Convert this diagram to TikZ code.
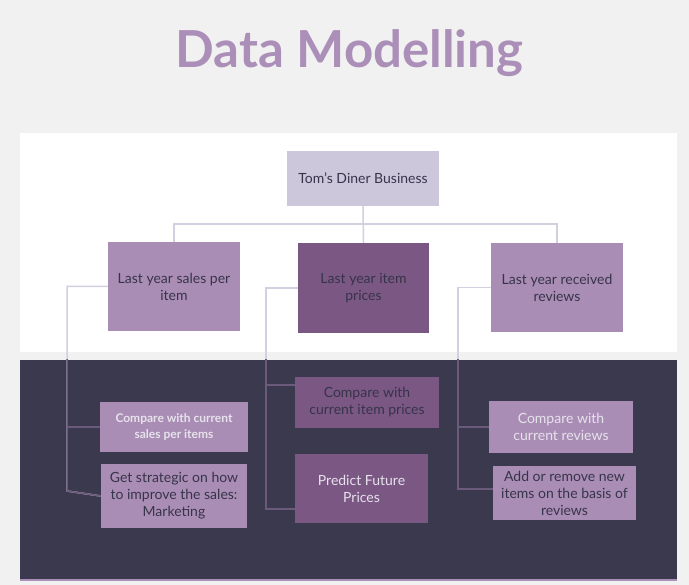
\documentclass[tikz,border=0pt]{standalone}
\usepackage{fontspec}
\setmainfont{Lato}
\usepackage{xcolor}
\usetikzlibrary{positioning}

\definecolor{pagegray}{HTML}{F1F1F1}
\definecolor{titlepurple}{HTML}{AB8FB8}
\definecolor{rootlav}{HTML}{CDC7DC}
\definecolor{lightpurple}{HTML}{AA8DB5}
\definecolor{darkpurple}{HTML}{7B5784}
\definecolor{nightpanel}{HTML}{3B394D}
\definecolor{inkdark}{HTML}{37344A}
\definecolor{inklight}{HTML}{E6E2EC}
\definecolor{linklight}{HTML}{D3CEE0}
\definecolor{linkdark}{HTML}{6B5A7C}

% all connectors, drawn twice (light on white, dark on the night panel)
\newcommand{\diagramlinks}{
\draw[link] (root.south) -- (prices.north);
\draw[link] (sales.north) |- (bus) -| (reviews.north);
\draw[link] (sales.west) -| (salesrail) -- (strategy.west);
\draw[link] (cmpsales.west) -- (cmpsales.west -| salesrail);
\draw[link] (prices.west) -| (pricesrail) -- (predict.west |- pricesrail);
\draw[link] (pricesjoin) -- (cmpprices.west |- pricesjoin);
\draw[link] (reviews.west) -| (reviewsrail) -- (addremove.west |- reviewsrail);
\draw[link] (cmpreviews.west) -- (cmpreviews.west -| reviewsrail);
}

\begin{document}
\begin{tikzpicture}[x=1pt,y=-1pt,
  box/.style={rectangle, inner sep=2pt, align=center, text=inkdark,
    font=\fontsize{14}{17}\selectfont},
  rootbox/.style={box, fill=rootlav},
  lightbox/.style={box, fill=lightpurple},
  darkbox/.style={box, fill=darkpurple},
  paletext/.style={text=inklight},
  link/.style={draw=linklight, line width=1.5pt}]

% panels
\fill[pagegray] (0,0) rectangle (689,585);
\fill[white] (20,133) rectangle (677,352);
\fill[nightpanel] (20,360) rectangle (677,580);
\draw[titlepurple, line width=2pt] (20,580) -- (677,580);

\node[font=\fontsize{51}{60}\selectfont\bfseries, text=titlepurple, anchor=base] (title) at (349.5,68) {Data Modelling};

% top level
\node[rootbox, minimum width=152pt, minimum height=55pt] (root) at (363,178.5) {Tom's Diner Business};
\node[lightbox, minimum width=132pt, minimum height=89pt] (sales) at (174,286.5) {Last year sales per\\item};
\node[darkbox, minimum width=131pt, minimum height=90pt] (prices) at (363.5,288) {Last year item\\prices};
\node[lightbox, minimum width=132pt, minimum height=89pt] (reviews) at (557,287.5) {Last year received\\reviews};

% second level
\node[lightbox, paletext, minimum width=148pt, minimum height=50pt, font=\fontsize{12}{16}\selectfont\bfseries] (cmpsales) at (174,427) {Compare with current\\sales per items};
\node[lightbox, minimum width=146pt, minimum height=64pt] (strategy) at (174,496) {Get strategic on how\\to improve the sales:\\Marketing};
\node[darkbox, minimum width=144pt, minimum height=51pt] (cmpprices) at (367,402.5) {Compare with\\current item prices};
\node[darkbox, paletext, minimum width=133pt, minimum height=69pt] (predict) at (361.5,488.5) {Predict Future\\Prices};
\node[lightbox, paletext, minimum width=144pt, minimum height=52pt] (cmpreviews) at (561,427) {Compare with\\current reviews};
\node[lightbox, minimum width=143pt, minimum height=54pt] (addremove) at (564.5,493) {Add or remove new\\items on the basis of\\reviews};

\coordinate (bus) at (363,224);
\coordinate (salesrail) at (67,491);
\coordinate (pricesrail) at (266,509);
\coordinate (pricesjoin) at (266,385);
\coordinate (reviewsrail) at (458,489);

\diagramlinks
\begin{scope}[link/.append style={draw=linkdark}]
\clip (20,360) rectangle (677,579);
\diagramlinks
\end{scope}
\end{tikzpicture}
\end{document}
